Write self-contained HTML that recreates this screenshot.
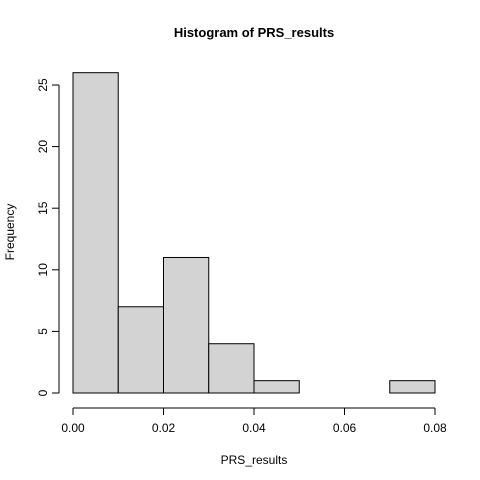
<!DOCTYPE html>
<html><head><meta charset="utf-8"><style>
html,body{margin:0;padding:0;background:#fff}
svg{display:block;font-family:"Liberation Sans",Arial,sans-serif}
</style></head><body>
<svg id="chart" width="480" height="480">
<text x="254" y="37" text-anchor="middle" font-size="13" font-weight="bold">Histogram of PRS_results</text>
<text x="254" y="464" text-anchor="middle" font-size="12">PRS_results</text>
<text transform="translate(14,232) rotate(-90)" text-anchor="middle" font-size="12">Frequency</text>
<g id="bars"></g><g id="xaxis"></g><g id="yaxis"></g>
</svg>
<script>
const binStarts=[0,0.01,0.02,0.03,0.04,0.05,0.06,0.07];
const binWidth=0.01;
const counts=[26,7,11,4,1,0,0,1];
const xTicks=[0,0.02,0.04,0.06,0.08];
const xTickLabels=["0.00","0.02","0.04","0.06","0.08"];
const yTicks=[0,5,10,15,20,25];
const NS="http://www.w3.org/2000/svg";
const sx=v=>73+v/0.08*362;
const sy=v=>393-v*12.32;
function mk(t,a,p){const e=document.createElementNS(NS,t);for(const k in a)e.setAttribute(k,a[k]);p.appendChild(e);return e;}
const bars=document.getElementById('bars');
counts.forEach((c,i)=>{if(c<=0)return;
const r=mk('rect',{x:sx(binStarts[i]),y:sy(c),width:sx(binStarts[i]+binWidth)-sx(binStarts[i]),height:sy(0)-sy(c),fill:'#d3d3d3',stroke:'#000','stroke-width':1},bars);

});
const xa=document.getElementById('xaxis');
const xl=mk('line',{x1:sx(xTicks[0]),x2:sx(xTicks[xTicks.length-1]),y1:408,y2:408,stroke:'#000'},xa);


xTicks.forEach((t,i)=>{mk('line',{x1:sx(t),x2:sx(t),y1:408,y2:415,stroke:'#000'},xa);
const tx=mk('text',{x:sx(t),y:432,'text-anchor':'middle','font-size':12},xa);tx.textContent=xTickLabels[i];

});
const ya=document.getElementById('yaxis');
const yl=mk('line',{x1:59,x2:59,y1:sy(yTicks[0]),y2:sy(yTicks[yTicks.length-1]),stroke:'#000'},ya);


yTicks.forEach(t=>{mk('line',{x1:52,x2:59,y1:sy(t),y2:sy(t),stroke:'#000'},ya);
const tx=mk('text',{transform:`translate(47,${sy(t)}) rotate(-90)`,'text-anchor':'middle','font-size':12},ya);tx.textContent=t;

});
</script>
</body></html>
